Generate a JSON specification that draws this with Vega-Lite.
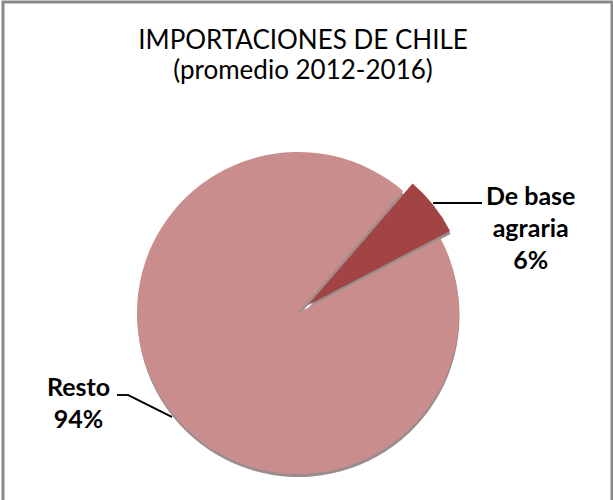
{
  "$schema": "https://vega.github.io/schema/vega-lite/v6.json",
  "width": 609,
  "height": 501,
  "autosize": {"type": "none"},
  "padding": {"left": 3, "top": 2, "right": 1, "bottom": -3},
  "background": "white",
  "config": {"view": {"stroke": "#898989", "strokeWidth": 3}},
  "title": {
    "text": ["IMPORTACIONES DE CHILE", "(promedio 2012-2016)"],
    "font": "Lato",
    "fontSize": 26,
    "fontWeight": "normal",
    "color": "#000000",
    "lineHeight": 30,
    "baseline": "alphabetic",
    "anchor": "middle",
    "offset": -103,
    "dx": -4.5
  },
  "data": {
    "values": [
      {"categoria": "De base agraria", "valor": 6, "orden": 1, "etiqueta": "De base\nagraria\n6%"},
      {"categoria": "Resto", "valor": 94, "orden": 2, "etiqueta": "Resto\n94%"}
    ]
  },
  "layer": [
    {
      "mark": {"type": "arc", "radius": 161, "fill": "#4a3030"},
      "encoding": {
        "x": {"datum": 0.5, "type": "quantitative", "scale": {"domain": [-295, 314], "nice": false, "zero": false}, "axis": null},
        "y": {"datum": -3, "type": "quantitative", "scale": {"domain": [-190, 311], "nice": false, "zero": false}, "axis": null},
        "theta": {"field": "valor", "type": "quantitative", "stack": true, "scale": {"range": [0.712, 6.995]}},
        "order": {"field": "orden"},
        "detail": {"field": "categoria"},
        "fillOpacity": {"condition": {"test": "datum.categoria === 'Resto'", "value": 0.55}, "value": 0}
      }
    },
    {
      "mark": {"type": "arc", "radius": 161, "fill": "#4a3030"},
      "encoding": {
        "x": {"datum": 9.9, "type": "quantitative", "scale": {"domain": [-295, 314], "nice": false, "zero": false}, "axis": null},
        "y": {"datum": 4.5, "type": "quantitative", "scale": {"domain": [-190, 311], "nice": false, "zero": false}, "axis": null},
        "theta": {"field": "valor", "type": "quantitative", "stack": true, "scale": {"range": [0.712, 6.995]}},
        "order": {"field": "orden"},
        "detail": {"field": "categoria"},
        "fillOpacity": {"condition": {"test": "datum.categoria === 'De base agraria'", "value": 0.55}, "value": 0}
      }
    },
    {
      "mark": {"type": "arc", "radius": 161},
      "encoding": {
        "x": {"datum": 0, "type": "quantitative", "scale": {"domain": [-295, 314], "nice": false, "zero": false}, "axis": null},
        "y": {"datum": 0, "type": "quantitative", "scale": {"domain": [-190, 311], "nice": false, "zero": false}, "axis": null},
        "theta": {"field": "valor", "type": "quantitative", "stack": true, "scale": {"range": [0.712, 6.995]}},
        "order": {"field": "orden"},
        "color": {"field": "categoria", "type": "nominal", "scale": {"domain": ["De base agraria", "Resto"], "range": ["#A24444", "#C98D8D"]}, "legend": null},
        "fillOpacity": {"condition": {"test": "datum.categoria === 'Resto'", "value": 1}, "value": 0}
      }
    },
    {
      "mark": {"type": "arc", "radius": 161},
      "encoding": {
        "x": {"datum": 9.4, "type": "quantitative", "scale": {"domain": [-295, 314], "nice": false, "zero": false}, "axis": null},
        "y": {"datum": 7.5, "type": "quantitative", "scale": {"domain": [-190, 311], "nice": false, "zero": false}, "axis": null},
        "theta": {"field": "valor", "type": "quantitative", "stack": true, "scale": {"range": [0.712, 6.995]}},
        "order": {"field": "orden"},
        "color": {"field": "categoria", "type": "nominal", "scale": {"domain": ["De base agraria", "Resto"], "range": ["#A24444", "#C98D8D"]}, "legend": null},
        "fillOpacity": {"condition": {"test": "datum.categoria === 'De base agraria'", "value": 1}, "value": 0}
      }
    },
    {
      "mark": {"type": "text", "radius": 260, "font": "Lato", "fontSize": 25, "fontWeight": "bold", "lineHeight": 32, "lineBreak": "\n", "align": "center", "baseline": "middle", "color": "#000000"},
      "encoding": {
        "x": {"datum": 0, "type": "quantitative", "scale": {"domain": [-295, 314], "nice": false, "zero": false}, "axis": null},
        "y": {"datum": 0, "type": "quantitative", "scale": {"domain": [-190, 311], "nice": false, "zero": false}, "axis": null},
        "theta": {"field": "valor", "type": "quantitative", "stack": true, "scale": {"range": [0.920, 7.203]}},
        "order": {"field": "orden"},
        "detail": {"field": "categoria"},
        "text": {"field": "etiqueta", "type": "nominal"},
        "opacity": {"condition": {"test": "datum.categoria === 'De base agraria'", "value": 1}, "value": 0}
      }
    },
    {
      "mark": {"type": "text", "radius": 232, "font": "Lato", "fontSize": 25, "fontWeight": "bold", "lineHeight": 32, "lineBreak": "\n", "align": "center", "baseline": "middle", "color": "#000000"},
      "encoding": {
        "x": {"datum": 0, "type": "quantitative", "scale": {"domain": [-295, 314], "nice": false, "zero": false}, "axis": null},
        "y": {"datum": 0, "type": "quantitative", "scale": {"domain": [-190, 311], "nice": false, "zero": false}, "axis": null},
        "theta": {"field": "valor", "type": "quantitative", "stack": true, "scale": {"range": [1.052, 7.335]}},
        "order": {"field": "orden"},
        "detail": {"field": "categoria"},
        "text": {"field": "etiqueta", "type": "nominal"},
        "opacity": {"condition": {"test": "datum.categoria === 'Resto'", "value": 1}, "value": 0}
      }
    },
    {
      "mark": {"type": "rule", "color": "#000000", "strokeWidth": 2},
      "encoding": {
        "x": {"datum": 135, "type": "quantitative"},
        "x2": {"datum": 184},
        "y": {"datum": 110, "type": "quantitative"},
        "y2": {"datum": 110}
      }
    },
    {
      "mark": {"type": "rule", "color": "#000000", "strokeWidth": 1.5},
      "encoding": {
        "x": {"datum": -181, "type": "quantitative"},
        "x2": {"datum": -170},
        "y": {"datum": -82, "type": "quantitative"},
        "y2": {"datum": -82}
      }
    },
    {
      "mark": {"type": "rule", "color": "#000000", "strokeWidth": 1.5},
      "encoding": {
        "x": {"datum": -170, "type": "quantitative"},
        "x2": {"datum": -126},
        "y": {"datum": -82, "type": "quantitative"},
        "y2": {"datum": -104}
      }
    }
  ],
  "resolve": {"scale": {"theta": "independent"}}
}
